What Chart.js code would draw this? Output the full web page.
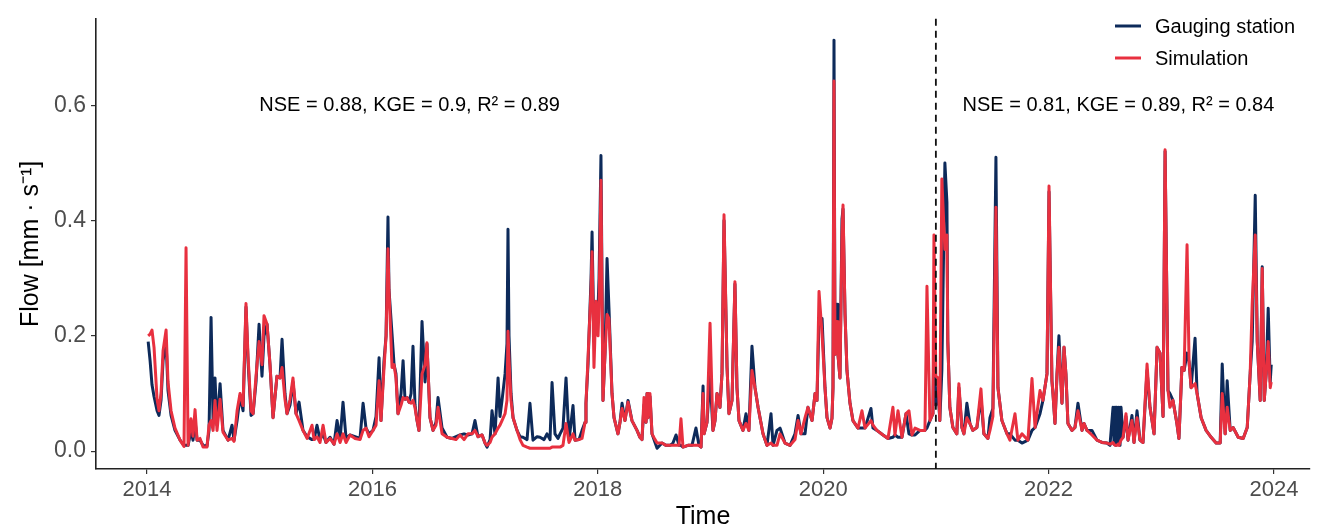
<!DOCTYPE html>
<html>
<head>
<meta charset="utf-8">
<script src="https://cdn.jsdelivr.net/npm/chart.js@4"></script>
<style>
  html, body { margin: 0; padding: 0; background: #fff; }
  #wrap { width: 1320px; height: 526px; }
</style>
</head>
<body>
<div id="wrap"><canvas id="flowChart" width="1320" height="526"></canvas></div>
<script>
// decimal years
const times = [
  2014.01, 2014.027, 2014.044, 2014.062, 2014.089, 2014.106, 2014.124, 2014.142, 2014.169, 2014.186, 2014.213, 2014.248, 2014.293, 2014.328, 2014.346, 2014.364, 2014.39, 2014.408, 2014.426, 2014.444, 2014.47, 2014.497, 2014.532, 2014.55, 2014.568, 2014.586, 2014.603, 2014.621, 2014.648, 2014.674, 2014.719, 2014.754, 2014.772, 2014.799, 2014.825, 2014.852, 2014.878, 2014.896, 2014.923,
  2014.941, 2014.967, 2014.994, 2015.02, 2015.038, 2015.065, 2015.091, 2015.118, 2015.153, 2015.18, 2015.198, 2015.224, 2015.242, 2015.269, 2015.295, 2015.322, 2015.349, 2015.384, 2015.42, 2015.464, 2015.482, 2015.508, 2015.535, 2015.562, 2015.588, 2015.624, 2015.659, 2015.686, 2015.713, 2015.739, 2015.766, 2015.801, 2015.846, 2015.89, 2015.917, 2015.943, 2015.97,
  2016.005, 2016.032, 2016.059, 2016.076, 2016.103, 2016.121, 2016.138, 2016.147, 2016.174, 2016.192, 2016.209, 2016.227, 2016.254, 2016.272, 2016.289, 2016.307, 2016.325, 2016.343, 2016.36, 2016.378, 2016.396, 2016.413, 2016.44, 2016.467, 2016.484, 2016.511, 2016.538, 2016.564, 2016.582, 2016.618, 2016.662, 2016.706, 2016.742, 2016.777, 2016.813, 2016.848, 2016.884, 2016.91, 2016.937, 2016.973,
  2016.999, 2017.017, 2017.044, 2017.061, 2017.088, 2017.115, 2017.132, 2017.15, 2017.177, 2017.194, 2017.203, 2017.212, 2017.23, 2017.248, 2017.283, 2017.31, 2017.336, 2017.372, 2017.398, 2017.425, 2017.461, 2017.487, 2017.523, 2017.549, 2017.576, 2017.594, 2017.62, 2017.647, 2017.665, 2017.691, 2017.718, 2017.745, 2017.78, 2017.798, 2017.833, 2017.86, 2017.887, 2017.895, 2017.913, 2017.922, 2017.94, 2017.949, 2017.966, 2017.984, 2018.002, 2018.011,
  2018.028, 2018.046, 2018.064, 2018.082, 2018.099, 2018.126, 2018.144, 2018.179, 2018.197, 2018.215, 2018.241, 2018.268, 2018.303, 2018.348, 2018.374, 2018.392, 2018.41, 2018.428, 2018.437, 2018.445, 2018.463, 2018.481, 2018.508, 2018.526, 2018.57, 2018.605, 2018.641, 2018.667, 2018.694, 2018.721, 2018.738, 2018.756, 2018.8, 2018.836, 2018.871, 2018.898, 2018.916, 2018.934, 2018.943, 2018.969, 2018.996, 2019.022,
  2019.04, 2019.058, 2019.084, 2019.102, 2019.12, 2019.147, 2019.164, 2019.191, 2019.217, 2019.235, 2019.253, 2019.288, 2019.315, 2019.341, 2019.368, 2019.395, 2019.422, 2019.466, 2019.501, 2019.537, 2019.555, 2019.59, 2019.617, 2019.661, 2019.706, 2019.75, 2019.777, 2019.803, 2019.839, 2019.865, 2019.901, 2019.928, 2019.945, 2019.963, 2019.99, 2020.016, 2020.034,
  2020.061, 2020.078, 2020.087, 2020.096, 2020.105, 2020.123, 2020.131, 2020.149, 2020.167, 2020.176, 2020.194, 2020.211, 2020.238, 2020.264, 2020.309, 2020.344, 2020.371, 2020.424, 2020.442, 2020.477, 2020.531, 2020.575, 2020.619, 2020.637, 2020.664, 2020.699, 2020.735, 2020.761, 2020.788, 2020.815, 2020.859, 2020.903, 2020.921, 2020.947, 2020.974, 2020.983, 2021.0,
  2021.018, 2021.035, 2021.053, 2021.08, 2021.098, 2021.106, 2021.124, 2021.151, 2021.186, 2021.204, 2021.231, 2021.249, 2021.275, 2021.302, 2021.328, 2021.364, 2021.4, 2021.426, 2021.462, 2021.48, 2021.506, 2021.533, 2021.551, 2021.586, 2021.631, 2021.657, 2021.702, 2021.728, 2021.764, 2021.817, 2021.853, 2021.88, 2021.924, 2021.95, 2021.986, 2022.004, 2022.03,
  2022.039, 2022.057, 2022.075, 2022.092, 2022.119, 2022.137, 2022.154, 2022.172, 2022.208, 2022.234, 2022.261, 2022.297, 2022.314, 2022.341, 2022.385, 2022.43, 2022.474, 2022.518, 2022.545, 2022.572, 2022.581, 2022.59, 2022.598, 2022.607, 2022.616, 2022.625, 2022.634, 2022.643, 2022.661, 2022.687, 2022.705, 2022.74, 2022.758, 2022.785, 2022.811, 2022.838, 2022.874, 2022.9, 2022.936, 2022.963, 2022.989, 2023.016, 2023.034, 2023.06,
  2023.077, 2023.104, 2023.139, 2023.157, 2023.174, 2023.183, 2023.203, 2023.229, 2023.247, 2023.265, 2023.3, 2023.318, 2023.354, 2023.398, 2023.443, 2023.487, 2023.523, 2023.541, 2023.567, 2023.585, 2023.612, 2023.638, 2023.683, 2023.727, 2023.763, 2023.789, 2023.807, 2023.834, 2023.852, 2023.878, 2023.896, 2023.914, 2023.931, 2023.949, 2023.967, 2023.976
];

// observed flow (mm/s)
const gauge = [
  0.19, 0.157, 0.115, 0.095, 0.07, 0.062, 0.088, 0.157, 0.19, 0.105, 0.062, 0.036, 0.019, 0.01, 0.01, 0.01, 0.036, 0.019, 0.053, 0.019, 0.019, 0.01, 0.009, 0.036, 0.232, 0.053, 0.127, 0.045, 0.117, 0.036, 0.019, 0.045, 0.019, 0.053, 0.095, 0.07, 0.25, 0.157, 0.062,
  0.065, 0.12, 0.22, 0.13, 0.2, 0.22, 0.15, 0.058, 0.13, 0.127, 0.194, 0.1, 0.065, 0.08, 0.12, 0.065, 0.085, 0.036, 0.025, 0.02, 0.02, 0.045, 0.02, 0.03, 0.015, 0.024, 0.012, 0.053, 0.02, 0.085, 0.022, 0.028, 0.025, 0.022, 0.083, 0.04, 0.03,
  0.036, 0.06, 0.162, 0.053, 0.157, 0.2, 0.406, 0.28, 0.203, 0.15, 0.134, 0.065, 0.1, 0.157, 0.09, 0.093, 0.085, 0.1, 0.182, 0.08, 0.053, 0.036, 0.225, 0.12, 0.186, 0.058, 0.036, 0.05, 0.093, 0.04, 0.024, 0.022, 0.025, 0.028, 0.03, 0.028, 0.03, 0.053, 0.025, 0.028,
  0.014, 0.007, 0.02, 0.07, 0.03, 0.127, 0.06, 0.088, 0.134, 0.186, 0.385, 0.2, 0.1, 0.058, 0.036, 0.025, 0.024, 0.02, 0.083, 0.019, 0.025, 0.024, 0.02, 0.03, 0.02, 0.119, 0.03, 0.022, 0.03, 0.04, 0.127, 0.019, 0.079, 0.019, 0.02, 0.036, 0.05, 0.083, 0.15, 0.2, 0.3, 0.38, 0.19, 0.24, 0.248, 0.3,
  0.513, 0.088, 0.17, 0.334, 0.248, 0.1, 0.058, 0.03, 0.05, 0.083, 0.053, 0.088, 0.053, 0.036, 0.024, 0.02, 0.08, 0.05, 0.1, 0.058, 0.095, 0.03, 0.015, 0.005, 0.014, 0.01, 0.01, 0.014, 0.028, 0.01, 0.01, 0.007, 0.01, 0.01, 0.04, 0.01, 0.007, 0.113, 0.03, 0.05, 0.13, 0.036,
  0.053, 0.1, 0.076, 0.134, 0.4, 0.145, 0.065, 0.088, 0.29, 0.11, 0.053, 0.036, 0.065, 0.036, 0.182, 0.11, 0.076, 0.03, 0.01, 0.065, 0.01, 0.036, 0.04, 0.014, 0.01, 0.03, 0.062, 0.03, 0.03, 0.076, 0.053, 0.1, 0.088, 0.23, 0.23, 0.11, 0.058,
  0.04, 0.057, 0.11, 0.713, 0.168, 0.255, 0.168, 0.127, 0.403, 0.42, 0.237, 0.14, 0.083, 0.053, 0.04, 0.04, 0.04, 0.074, 0.04, 0.036, 0.028, 0.022, 0.024, 0.028, 0.024, 0.024, 0.065, 0.03, 0.028, 0.028, 0.036, 0.036, 0.04, 0.053, 0.065, 0.2, 0.08,
  0.11, 0.053, 0.14, 0.5, 0.432, 0.19, 0.076, 0.041, 0.03, 0.11, 0.041, 0.03, 0.083, 0.048, 0.036, 0.041, 0.093, 0.03, 0.022, 0.058, 0.074, 0.51, 0.11, 0.053, 0.03, 0.03, 0.019, 0.019, 0.014, 0.019, 0.036, 0.041, 0.065, 0.088, 0.134, 0.45, 0.122,
  0.1, 0.048, 0.134, 0.2, 0.083, 0.18, 0.134, 0.048, 0.036, 0.041, 0.083, 0.036, 0.048, 0.036, 0.036, 0.019, 0.015, 0.014, 0.01, 0.076, 0.012, 0.076, 0.01, 0.076, 0.012, 0.076, 0.01, 0.076, 0.024, 0.06, 0.019, 0.062, 0.015, 0.07, 0.019, 0.015, 0.14, 0.076, 0.03, 0.18, 0.17, 0.06, 0.52, 0.105,
  0.1, 0.088, 0.048, 0.022, 0.1, 0.145, 0.14, 0.17, 0.155, 0.11, 0.196, 0.1, 0.058, 0.036, 0.024, 0.014, 0.014, 0.151, 0.03, 0.122, 0.036, 0.041, 0.024, 0.022, 0.041, 0.134, 0.19, 0.444, 0.19, 0.088, 0.32, 0.088, 0.134, 0.248, 0.12, 0.15
];

// simulated flow (mm/s)
const simulation = [
  0.2, 0.203, 0.21, 0.18, 0.09, 0.07, 0.1, 0.174, 0.21, 0.12, 0.07, 0.04, 0.019, 0.008, 0.353, 0.01, 0.056, 0.026, 0.072, 0.019, 0.022, 0.007, 0.007, 0.045, 0.053, 0.036, 0.088, 0.036, 0.09, 0.033, 0.019, 0.022, 0.017, 0.07, 0.1, 0.079, 0.256, 0.165, 0.07,
  0.065, 0.13, 0.19, 0.15, 0.235, 0.22, 0.15, 0.058, 0.13, 0.127, 0.145, 0.09, 0.065, 0.09, 0.127, 0.065, 0.053, 0.036, 0.022, 0.045, 0.02, 0.025, 0.015, 0.045, 0.015, 0.022, 0.012, 0.03, 0.015, 0.03, 0.015, 0.028, 0.022, 0.02, 0.036, 0.04, 0.025,
  0.036, 0.045, 0.122, 0.053, 0.145, 0.2, 0.351, 0.28, 0.145, 0.15, 0.127, 0.065, 0.08, 0.093, 0.09, 0.093, 0.085, 0.083, 0.088, 0.075, 0.053, 0.036, 0.134, 0.15, 0.188, 0.058, 0.036, 0.045, 0.076, 0.03, 0.024, 0.022, 0.02, 0.028, 0.02, 0.03, 0.03, 0.036, 0.025, 0.028,
  0.014, 0.01, 0.015, 0.024, 0.03, 0.04, 0.045, 0.053, 0.065, 0.088, 0.208, 0.16, 0.088, 0.058, 0.036, 0.02, 0.01, 0.007, 0.005, 0.005, 0.005, 0.005, 0.005, 0.005, 0.005, 0.007, 0.007, 0.007, 0.007, 0.01, 0.048, 0.015, 0.03, 0.019, 0.02, 0.022, 0.05, 0.083, 0.16, 0.203, 0.28, 0.346, 0.145, 0.26, 0.2, 0.25,
  0.47, 0.088, 0.17, 0.237, 0.23, 0.1, 0.058, 0.03, 0.05, 0.074, 0.053, 0.085, 0.053, 0.036, 0.024, 0.02, 0.093, 0.05, 0.1, 0.058, 0.1, 0.03, 0.02, 0.014, 0.014, 0.01, 0.01, 0.01, 0.01, 0.01, 0.056, 0.007, 0.01, 0.01, 0.01, 0.01, 0.007, 0.1, 0.03, 0.05, 0.222, 0.036,
  0.053, 0.1, 0.076, 0.134, 0.41, 0.145, 0.065, 0.088, 0.294, 0.11, 0.053, 0.036, 0.048, 0.036, 0.14, 0.11, 0.076, 0.03, 0.01, 0.014, 0.01, 0.01, 0.03, 0.014, 0.01, 0.02, 0.053, 0.03, 0.058, 0.076, 0.053, 0.1, 0.088, 0.277, 0.203, 0.11, 0.058,
  0.04, 0.057, 0.11, 0.642, 0.168, 0.225, 0.168, 0.127, 0.375, 0.427, 0.237, 0.14, 0.083, 0.053, 0.04, 0.07, 0.04, 0.053, 0.045, 0.036, 0.028, 0.022, 0.076, 0.028, 0.07, 0.024, 0.065, 0.07, 0.028, 0.04, 0.036, 0.036, 0.286, 0.053, 0.065, 0.375, 0.13,
  0.127, 0.053, 0.472, 0.35, 0.375, 0.19, 0.076, 0.041, 0.03, 0.117, 0.041, 0.03, 0.058, 0.048, 0.036, 0.041, 0.108, 0.03, 0.022, 0.036, 0.06, 0.423, 0.11, 0.053, 0.03, 0.019, 0.065, 0.019, 0.03, 0.019, 0.126, 0.041, 0.105, 0.088, 0.134, 0.46, 0.122,
  0.1, 0.048, 0.134, 0.18, 0.083, 0.18, 0.134, 0.048, 0.036, 0.041, 0.07, 0.036, 0.048, 0.036, 0.028, 0.019, 0.015, 0.014, 0.012, 0.015, 0.012, 0.01, 0.01, 0.01, 0.012, 0.01, 0.015, 0.019, 0.024, 0.065, 0.019, 0.053, 0.015, 0.058, 0.019, 0.015, 0.151, 0.076, 0.03, 0.18, 0.17, 0.06, 0.523, 0.105,
  0.076, 0.088, 0.048, 0.022, 0.1, 0.145, 0.14, 0.358, 0.155, 0.11, 0.117, 0.1, 0.058, 0.036, 0.024, 0.014, 0.014, 0.1, 0.03, 0.076, 0.036, 0.041, 0.024, 0.022, 0.041, 0.134, 0.255, 0.375, 0.19, 0.088, 0.317, 0.088, 0.134, 0.19, 0.11, 0.12
];

const xTicks = [2014, 2016, 2018, 2020, 2022, 2024];
const yTicks = [0, 0.2, 0.4, 0.6];
const seriesNames = ['Gauging station', 'Simulation'];
const splitYear = 2021;
const scoreTexts = ['NSE = 0.88, KGE = 0.9, R² = 0.89', 'NSE = 0.81, KGE = 0.89, R² = 0.84'];

const colorGauge = '#0d2a5a';
const colorSim = '#e8303f';
const fontFamily = '"Liberation Sans", Arial, sans-serif';

const toPoints = (values) => times.map((t, i) => ({ x: t, y: values[i] }));

// dashed split line, score labels and legend
const extras = {
  id: 'extras',
  afterDatasetsDraw(chart) {
    const { ctx, chartArea, scales } = chart;
    ctx.save();

    const xs = scales.x.getPixelForValue(splitYear);
    ctx.strokeStyle = '#111';
    ctx.lineWidth = 1.8;
    ctx.setLineDash([7, 5]);
    ctx.beginPath();
    ctx.moveTo(xs, chartArea.top);
    ctx.lineTo(xs, chartArea.bottom);
    ctx.stroke();
    ctx.setLineDash([]);

    ctx.fillStyle = '#000';
    ctx.font = '20px ' + fontFamily;
    ctx.textAlign = 'center';
    ctx.textBaseline = 'middle';
    const yText = scales.y.getPixelForValue(0.6);
    ctx.fillText(scoreTexts[0], scales.x.getPixelForValue(2016.33), yText);
    ctx.fillText(scoreTexts[1], scales.x.getPixelForValue(2022.62), yText);

    // legend
    const colors = [colorGauge, colorSim];
    ctx.textAlign = 'left';
    seriesNames.forEach((name, i) => {
      const y = 26 + i * 32;
      ctx.strokeStyle = colors[i];
      ctx.lineWidth = 3;
      ctx.beginPath();
      ctx.moveTo(1115, y);
      ctx.lineTo(1141, y);
      ctx.stroke();
      ctx.fillStyle = '#000';
      ctx.fillText(name, 1155, y + 1);
    });
    ctx.restore();
  },
};

new Chart(document.getElementById('flowChart'), {
  type: 'line',
  data: {
    datasets: [
      {
        label: seriesNames[0],
        data: toPoints(gauge),
        borderColor: colorGauge,
        borderWidth: 3,
        borderJoinStyle: 'round',
        pointRadius: 0,
        order: 1,
      },
      {
        label: seriesNames[1],
        data: toPoints(simulation),
        borderColor: colorSim,
        borderWidth: 3,
        borderJoinStyle: 'round',
        pointRadius: 0,
        order: 0,
      },
    ],
  },
  options: {
    responsive: false,
    animation: false,
    devicePixelRatio: 1,
    layout: { padding: { top: 15, right: 10, left: 0, bottom: 0 } },
    scales: {
      x: {
        type: 'linear',
        min: 2013.547,
        max: 2024.32,
        afterFit: (scale) => { scale.height = 57; },
        afterBuildTicks: (scale) => { scale.ticks = xTicks.map((v) => ({ value: v })); },
        grid: { drawOnChartArea: false, tickLength: 5, color: '#333', lineWidth: 1.2 },
        border: { display: true, color: '#222', width: 1.6 },
        ticks: {
          color: '#4d4d4d',
          padding: 3,
          maxRotation: 0,
          font: { family: fontFamily, size: 22 },
          callback: (v) => String(v),
        },
        title: {
          display: true,
          text: 'Time',
          color: '#000',
          font: { family: fontFamily, size: 25, lineHeight: 1 },
          padding: { top: 0, bottom: -4 },
        },
      },
      y: {
        min: -0.031,
        max: 0.75,
        afterFit: (scale) => { scale.width = 96; },
        afterBuildTicks: (scale) => { scale.ticks = yTicks.map((v) => ({ value: v })); },
        grid: { drawOnChartArea: false, tickLength: 5, color: '#333', lineWidth: 1.2 },
        border: { display: true, color: '#222', width: 1.6 },
        ticks: {
          color: '#4d4d4d',
          padding: 5,
          font: { family: fontFamily, size: 23 },
          callback: (v) => v.toFixed(1),
        },
        title: {
          display: true,
          text: 'Flow [mm · s⁻¹]',
          color: '#000',
          font: { family: fontFamily, size: 25, lineHeight: 1.2 },
          padding: { top: 16, bottom: 0 },
        },
      },
    },
    plugins: {
      legend: { display: false },
      tooltip: { enabled: false },
    },
  },
  plugins: [extras],
});
</script>
</body>
</html>
